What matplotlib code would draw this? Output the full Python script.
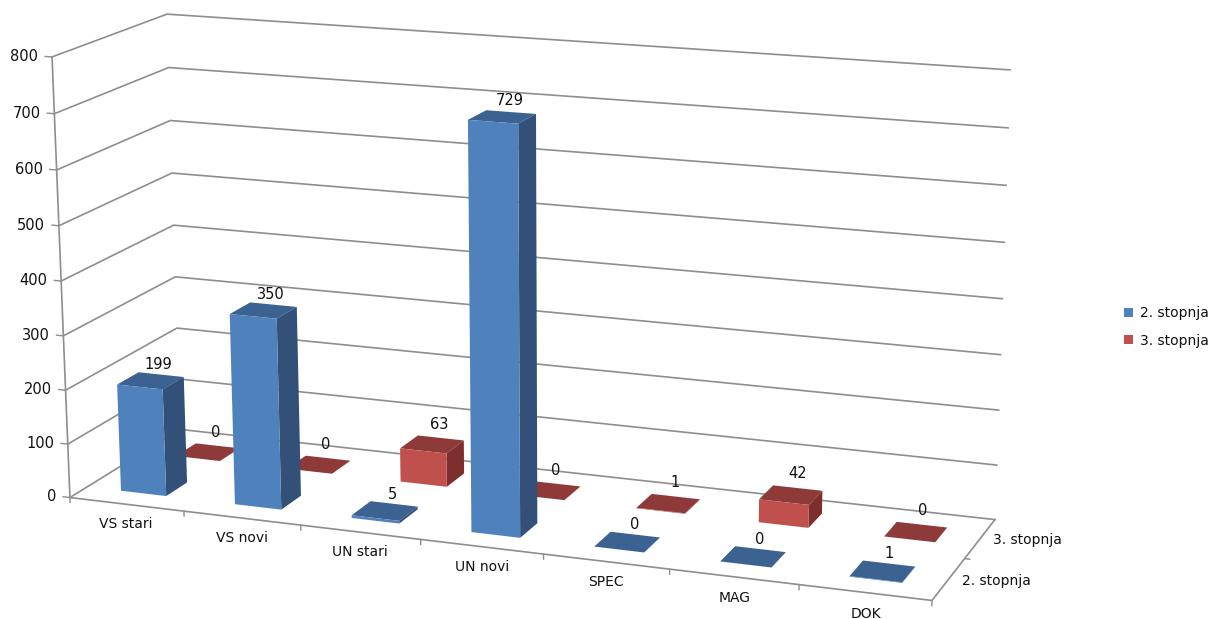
import numpy as np
import matplotlib
matplotlib.use("Agg")
import matplotlib.pyplot as plt
from matplotlib.patches import Patch
from mpl_toolkits.mplot3d import Axes3D

categories = ["VS stari", "VS novi", "UN stari", "UN novi", "SPEC", "MAG", "DOK"]
series_names = ["2. stopnja", "3. stopnja"]
stopnja_2 = [199, 350, 5, 729, 0, 0, 1]
stopnja_3 = [0, 0, 63, 0, 1, 42, 0]
z_ticks = [0, 100, 200, 300, 400, 500, 600, 700, 800]

W, H = 1213, 619
plt.rcParams["font.family"] = ["DejaVu Sans"]
FS = 10.5
GRID = "#8e8e8e"
TXT = "#111111"

# box corners (cat, series, value) -> pixel, used to fit the Excel perspective
box_world = [(0, 0, 0), (7, 0, 0), (7, 2, 0), (0, 2, 0), (0, 0, 800), (0, 2, 800), (7, 2, 800)]
box_pixel = [(70, 497), (932, 601), (995, 519), (180, 430), (52, 57), (167, 14), (1010, 70)]

rows, rhs = [], []
for (X, Y, Z), (u, v) in zip(box_world, box_pixel):
    rows.append([X, Y, Z, 1, 0, 0, 0, 0, -u * X, -u * Y, -u * Z])
    rows.append([0, 0, 0, 0, X, Y, Z, 1, -v * X, -v * Y, -v * Z])
    rhs += [u, v]
rows = np.array(rows, dtype=float)
scale = np.array([1, 1, 800, 1, 1, 1, 800, 1, 1, 1, 800.0])
p = np.linalg.lstsq(rows * scale, np.array(rhs, dtype=float), rcond=None)[0] * scale

fig = plt.figure(figsize=(W / 100, H / 100), dpi=100)
ax = fig.add_axes([0, 0, 1, 1], projection="3d")
ax.apply_aspect = lambda position=None: None
ax.set_proj_type("ortho")
ax.set_axis_off()
ax.computed_zorder = False


def fitted_proj():
    vl = ax.viewLim
    sx = (vl.x1 - vl.x0) / W
    sy = (vl.y0 - vl.y1) / H
    row_w = np.array([p[8], p[9], p[10], 1.0])
    row_x = np.array([p[0], p[1], p[2], p[3]]) * sx + row_w * vl.x0
    row_y = np.array([p[4], p[5], p[6], p[7]]) * sy + row_w * vl.y1
    # depth only decides the painting order: far = high series, left, low
    row_d = np.array([-0.02, 1.0, -1e-5, 0.0])
    return np.array([row_x, row_y, row_d, row_w])


ax.get_proj = fitted_proj


def line(xs, ys, zs, lw=1.2):
    ax.plot(xs, ys, zs, color=GRID, lw=lw, zorder=1, solid_capstyle="projecting")


def label(x, y, z, s, **kw):
    # text goes in at its projected spot, so its extent is a plain 2D one
    w = p[8] * x + p[9] * y + p[10] * z + 1
    u = (p[0] * x + p[1] * y + p[2] * z + p[3]) / w
    v = (p[4] * x + p[5] * y + p[6] * z + p[7]) / w
    ax.text2D(u / W, 1 - v / H, s, transform=ax.transAxes, color=TXT, zorder=3, va="center", **kw)


n = len(categories)
for z in z_ticks:
    line([0, 0, n], [0, 2, 2], [z, z, z])
    line([-0.06, 0], [0, 0], [z, z], lw=1)
    label(-0.12, 0, z - 1, str(z), ha="right", fontsize=FS)
line([0, 0], [0, 0], [0, 800])
line([0, n, n], [0, 0, 2], [0, 0, 0])
for i in range(n + 1):
    line([i, i], [0, 0], [0, -9], lw=1)
line([n, n + 0.04], [1, 1], [0, 0], lw=1)

# bars, flat ones for the zero values; order is bottom, top, front, back, left, right
bar_w = 0.4
bar_gap = 0.3
HID = "#00000000"
faces_2 = [HID, "#3b6290", "#4f81bd", HID, HID, "#325078"]
faces_3 = [HID, "#8e3a38", "#c0504d", HID, HID, "#7d2f2d"]
xs, ys, dz, cols = [], [], [], []
for s, (vals, faces) in enumerate(zip([stopnja_2, stopnja_3], [faces_2, faces_3])):
    for i, v in enumerate(vals):
        xs.append(i + bar_gap)
        ys.append(s + bar_gap)
        dz.append(v)
        cols += faces
ax.bar3d(xs, ys, np.zeros(len(xs)), bar_w, 0.38, dz, color=cols, shade=False,
         linewidth=0, edgecolor="none", zorder=2)

for s, (vals, lift) in enumerate(zip([stopnja_2, stopnja_3], [24, 32])):
    for i, v in enumerate(vals):
        label(i + 0.52, s + 0.6, v + lift, str(v), ha="center", fontsize=FS)

for i, c in enumerate(categories):
    label(i + 0.53, -0.08, -30, c, ha="center", fontsize=FS - 0.5)
for s, name in enumerate(series_names):
    label(n + 0.1, s + 0.5, 0, name, ha="left", fontsize=FS - 0.5)

handles = [Patch(facecolor="#4f81bd", label=series_names[0]), Patch(facecolor="#c0504d", label=series_names[1])]
ax.legend(handles=handles, loc="center left", bbox_to_anchor=(1124 / W, 1 - 327 / H), frameon=False,
          fontsize=FS - 0.5, handlelength=0.65, handleheight=0.65, handletextpad=0.5,
          labelspacing=0.95, borderpad=0, borderaxespad=0, labelcolor=TXT)

fig.savefig("out.png", dpi=100)
